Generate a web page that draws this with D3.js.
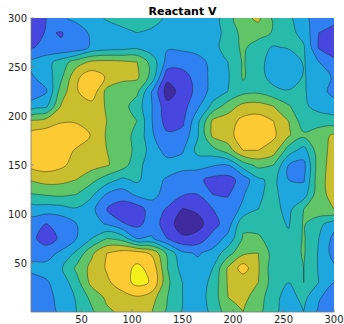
<!DOCTYPE html>
<html>
<head>
<meta charset="utf-8">
<script src="https://cdn.jsdelivr.net/npm/d3@7"></script>
<style>
  body { margin: 0; background: #fff; }
  text { font-family: "DejaVu Sans", sans-serif; fill: #262626; }
</style>
</head>
<body>
<svg id="chart" width="344" height="324"></svg>
<script>
// ---- data ----
const title = 'Reactant V';
const xTicks = [50, 100, 150, 200, 250, 300];
const yTicks = [50, 100, 150, 200, 250, 300];
const gridStep = 15;                       // data units between samples
const levels = [1, 2, 3, 4, 5, 6, 7, 8];   // contour thresholds
const bandColors = ['#3f2b9f', '#4747e0', '#2f80f0', '#1ea7df', '#28bbab',
                    '#60c567', '#c9be2d', '#fcca32', '#f4f01b'];

// sampled field, read off the picture: first row is y = 300, last row y = 0,
// columns run x = 0 .. 300
const field = [
  [1.3, 2.0, 2.8, 3.3, 3.6, 4.1, 4.3, 4.3, 4.2, 3.9, 3.5, 3.3, 3.5, 4.6, 5.7, 6.2, 4.8, 4.3, 3.1, 2.8, 2.5],
  [1.3, 2.1, 1.95, 2.4, 3.2, 3.5, 3.8, 4.0, 3.9, 3.5, 3.3, 3.2, 3.5, 4.4, 5.3, 5.5, 4.9, 4.3, 3.7, 2.0, 1.4],
  [1.9, 2.3, 2.1, 2.2, 3.2, 3.5, 3.6, 3.8, 3.4, 3.1, 3.2, 3.4, 3.7, 4.4, 5.2, 4.4, 3.9, 4.1, 4.1, 1.9, 1.3],
  [3.2, 3.6, 4.5, 5.5, 6.2, 6.3, 6.2, 6.0, 4.6, 2.6, 2.4, 2.6, 3.3, 4.0, 5.1, 4.3, 3.6, 3.2, 4.1, 3.0, 2.3],
  [2.9, 3.4, 4.8, 6.8, 7.6, 6.9, 6.3, 6.2, 4.6, 1.3, 1.6, 2.4, 3.3, 3.9, 5.1, 4.4, 3.6, 3.2, 4.1, 3.4, 2.9],
  [2.3, 2.9, 5.5, 6.9, 7.7, 5.7, 5.4, 5.2, 2.9, 0.5, 1.4, 2.3, 3.4, 4.0, 4.7, 4.8, 4.3, 4.1, 4.1, 3.5, 2.6],
  [3.4, 3.8, 6.1, 6.6, 6.6, 5.9, 5.4, 4.5, 3.0, 1.3, 1.6, 2.8, 4.3, 5.5, 6.3, 6.4, 6.0, 5.1, 4.2, 3.6, 3.5],
  [6.1, 6.4, 6.9, 6.9, 6.7, 6.0, 5.3, 5.0, 3.0, 1.5, 1.8, 3.7, 6.2, 6.5, 7.3, 7.5, 7.0, 6.0, 4.4, 4.6, 4.3],
  [7.4, 7.6, 7.6, 7.5, 6.95, 5.9, 5.3, 4.8, 3.1, 2.2, 2.3, 3.9, 6.2, 6.6, 7.6, 7.7, 7.2, 6.1, 5.2, 5.5, 6.2],
  [7.5, 7.6, 7.4, 6.9, 6.4, 6.0, 5.4, 4.8, 3.5, 2.6, 2.9, 4.3, 4.6, 5.5, 7.0, 7.0, 6.5, 4.5, 3.6, 5.6, 6.3],
  [7.3, 7.5, 7.2, 6.6, 6.4, 6.1, 5.5, 4.3, 3.5, 3.4, 3.4, 3.4, 3.1, 3.0, 4.5, 5.3, 5.0, 3.0, 2.7, 5.6, 6.4],
  [6.1, 6.4, 6.3, 6.0, 5.3, 4.5, 3.8, 4.2, 3.3, 2.9, 2.4, 2.2, 1.7, 1.6, 2.4, 3.8, 4.3, 3.0, 2.9, 5.7, 6.4],
  [4.9, 5.1, 5.2, 5.0, 4.2, 2.9, 2.5, 3.2, 3.3, 2.6, 2.1, 2.0, 2.0, 1.9, 2.9, 3.9, 4.2, 3.6, 3.5, 5.7, 6.3],
  [3.5, 3.5, 3.6, 3.9, 3.3, 2.0, 1.4, 1.5, 2.5, 1.9, 0.95, 1.2, 2.0, 2.5, 3.2, 4.0, 4.3, 3.7, 5.0, 5.7, 6.0],
  [2.5, 2.0, 2.3, 3.0, 3.4, 2.9, 2.1, 1.7, 2.5, 1.5, 0.4, 0.6, 1.6, 2.5, 4.8, 4.5, 4.4, 3.9, 5.1, 4.3, 3.4],
  [2.3, 1.5, 2.2, 3.0, 4.0, 5.0, 4.6, 3.0, 3.1, 2.0, 1.2, 1.4, 2.4, 3.3, 5.1, 5.2, 4.4, 4.2, 5.1, 4.0, 2.7],
  [2.7, 2.6, 3.2, 4.2, 5.8, 7.0, 7.5, 7.5, 6.8, 4.8, 3.2, 2.9, 3.3, 4.6, 5.8, 6.0, 4.6, 4.5, 5.1, 3.9, 2.6],
  [3.2, 3.3, 3.9, 5.2, 6.3, 7.1, 7.6, 8.2, 7.7, 5.0, 3.6, 3.3, 4.0, 6.1, 7.5, 6.1, 4.4, 4.4, 5.0, 3.9, 3.2],
  [2.6, 2.9, 3.4, 4.6, 6.3, 6.8, 7.5, 8.3, 7.9, 5.2, 4.0, 3.4, 4.3, 6.1, 6.3, 6.0, 4.5, 4.0, 5.0, 4.0, 3.0],
  [2.4, 2.7, 3.3, 4.1, 5.3, 6.2, 6.6, 6.9, 6.4, 5.0, 4.0, 3.5, 4.4, 6.0, 6.3, 5.5, 4.3, 3.6, 4.3, 3.1, 2.5],
  [2.3, 2.6, 3.2, 4.0, 4.8, 5.8, 6.2, 6.5, 6.0, 4.8, 3.9, 3.5, 4.2, 5.5, 6.0, 5.3, 4.2, 3.6, 4.0, 2.8, 2.3]
];

// ---- layout ----
const svg = d3.select('#chart');
const plot = { left: 31, right: 334, top: 18, bottom: 312 };

const x = d3.scaleLinear().domain([0, 300]).range([plot.left, plot.right]);
const y = d3.scaleLinear().domain([0, 300]).range([plot.bottom, plot.top]);

const nx = field[0].length, ny = field.length;
const yTop = gridStep * (ny - 1);

// contour grid coords: sample k sits at k + 0.5
const toPx = ([cx, cy]) => [x(gridStep * (cx - 0.5)), y(yTop - gridStep * (cy - 0.5))];

const bands = d3.contours()
    .size([nx, ny])
    .thresholds(levels)(field.flat());

const ringLine = d3.line().curve(d3.curveCatmullRomClosed.alpha(0.5));

function bandPath(mp) {
    return mp.coordinates.map(poly => poly.map(ring => {
        let pts = ring.slice();
        const a = pts[0], b = pts[pts.length - 1];
        if (a[0] === b[0] && a[1] === b[1]) pts.pop();
        return ringLine(pts.map(toPx));
    }).join('')).join('');
}

svg.append('clipPath').attr('id', 'plot-clip')
  .append('rect')
    .attr('x', plot.left).attr('y', plot.top)
    .attr('width', plot.right - plot.left)
    .attr('height', plot.bottom - plot.top);

const g = svg.append('g').attr('clip-path', 'url(#plot-clip)');

g.append('rect')
    .attr('x', plot.left).attr('y', plot.top)
    .attr('width', plot.right - plot.left)
    .attr('height', plot.bottom - plot.top)
    .attr('fill', bandColors[0]);

g.selectAll('path.band')
  .data(bands)
  .join('path')
    .attr('class', 'band')
    .attr('d', bandPath)
    .attr('fill', (d, i) => bandColors[i + 1])
    .attr('fill-rule', 'evenodd')
    .attr('stroke', 'rgba(30,30,30,0.75)')
    .attr('stroke-width', 0.6);

// ---- axes ----
const axisColor = '#7a7a7a';

svg.append('line')
    .attr('x1', plot.left).attr('x2', plot.left)
    .attr('y1', plot.top).attr('y2', plot.bottom)
    .attr('stroke', axisColor).attr('stroke-width', 0.8);
svg.append('line')
    .attr('x1', plot.left).attr('x2', plot.right)
    .attr('y1', plot.bottom).attr('y2', plot.bottom)
    .attr('stroke', axisColor).attr('stroke-width', 0.8);

svg.selectAll('line.xtick')
  .data(xTicks)
  .join('line')
    .attr('class', 'xtick')
    .attr('x1', d => x(d)).attr('x2', d => x(d))
    .attr('y1', plot.bottom).attr('y2', plot.bottom - 3)
    .attr('stroke', axisColor).attr('stroke-width', 0.8);

svg.selectAll('line.ytick')
  .data(yTicks)
  .join('line')
    .attr('class', 'ytick')
    .attr('x1', plot.left).attr('x2', plot.left + 3)
    .attr('y1', d => y(d)).attr('y2', d => y(d))
    .attr('stroke', axisColor).attr('stroke-width', 0.8);

svg.selectAll('text.xlab')
  .data(xTicks)
  .join('text')
    .attr('class', 'xlab')
    .attr('x', d => x(d))
    .attr('y', 322.5)
    .attr('text-anchor', 'middle')
    .style('font-size', '10px')
    .text(d => d);

svg.selectAll('text.ylab')
  .data(yTicks)
  .join('text')
    .attr('class', 'ylab')
    .attr('x', plot.left - 4)
    .attr('y', d => y(d))
    .attr('dy', '0.35em')
    .attr('text-anchor', 'end')
    .style('font-size', '10px')
    .text(d => d);

svg.append('text')
    .attr('x', (plot.left + plot.right) / 2)
    .attr('y', 14.5)
    .attr('text-anchor', 'middle')
    .style('font-size', '11px')
    .style('font-weight', 'bold')
    .style('fill', '#000')
    .text(title);
</script>
</body>
</html>
